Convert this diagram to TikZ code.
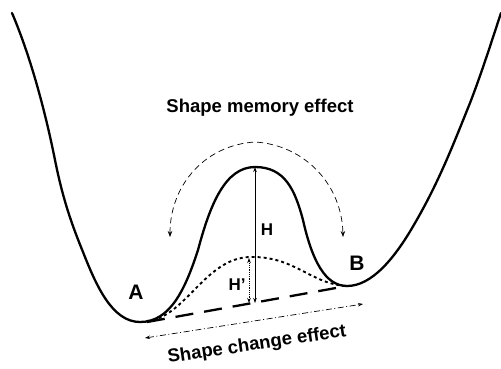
\documentclass[tikz,border=0pt]{standalone}
\usepackage{fontspec}
\setmainfont{Liberation Sans}
\usetikzlibrary{arrows.meta}
\begin{document}
\begin{tikzpicture}[x=1pt,y=-1pt,
  curve/.style={line width=2.3pt,line cap=round,line join=round},
  lbl/.style={font=\bfseries\fontsize{18.5}{20}\selectfont,inner sep=0pt},
  ptlbl/.style={font=\bfseries\fontsize{21}{23}\selectfont,inner sep=0pt},
  hlbl/.style={font=\bfseries\fontsize{17}{19}\selectfont,inner sep=0pt},
  dtip/.style={{Stealth[length=6pt,width=4.5pt]}-{Stealth[length=6pt,width=4.5pt]}},
  stip/.style={{Stealth[length=5pt,width=3.5pt]}-{Stealth[length=5pt,width=3.5pt]}}]
\useasboundingbox (0,0) rectangle (501,368);
% key points
\coordinate (tl) at (12,13);
\coordinate (A0) at (140,322);
\coordinate (P) at (255,167);
\coordinate (B0) at (347,286);
\coordinate (tr) at (501,13);
\coordinate (Pd) at (250,257);
\coordinate (base) at (255,303);
\coordinate (based) at (249,303);
\coordinate (Ps) at (249,258);
\coordinate (arcL) at (170,237);
\coordinate (arcT) at (255,142);
\coordinate (arcR) at (343,237);
\coordinate (scL) at (145,338);
\coordinate (scR) at (363,304);
% potential curve
\draw[curve] (tl) .. controls (30,55) and (45,110) .. (55,160)
  .. controls (63,200) and (72,225) .. (83,252)
  .. controls (96,285) and (112,322) .. (A0)
  .. controls (170,322) and (185,290) .. (198,250)
  .. controls (210,205) and (225,167) .. (P)
  .. controls (285,167) and (295,190) .. (303,220)
  .. controls (312,260) and (325,286) .. (B0)
  .. controls (372,286) and (395,258) .. (415,223)
  .. controls (440,180) and (455,140) .. (470,103)
  .. controls (482,72) and (492,40) .. (tr);
% lowered barrier (dotted)
\draw[line width=1.9pt,dash pattern=on 3pt off 3pt] (147,321) .. controls (185,318) and (205,258) .. (Pd)
  .. controls (295,256) and (310,284) .. (B0);
% dashed baseline
\draw[line width=2.3pt,dash pattern=on 18pt off 11pt] (A0) ++(7,0) -- (B0);
% H arrow
\draw[line width=0.8pt,stip] (base) -- (P);
\node[hlbl] (H) at (267,230) {H};
% H' arrow
\draw[line width=0.8pt,densely dotted,stip] (based) -- (Ps);
\node[hlbl] (Hp) at (237,285) {H’};
% shape memory arcs
\draw[line width=0.7pt,dash pattern=on 6pt off 4pt,dtip] (arcL) .. controls (170,185) and (205,145) .. (arcT)
  .. controls (305,145) and (342,185) .. (arcR);
\node[lbl] (sme) at (260,108) {Shape memory effect};
% shape change
\draw[line width=0.7pt,dash pattern=on 6pt off 2.5pt on 1pt off 2.5pt,stip] (scL) -- (scR);
\node[lbl,rotate=8.5] (sce) at (257,345) {Shape change effect};
% labels
\node[ptlbl] (A) at (136,292) {A};
\node[ptlbl] (B) at (357,263) {B};
\end{tikzpicture}
\end{document}
